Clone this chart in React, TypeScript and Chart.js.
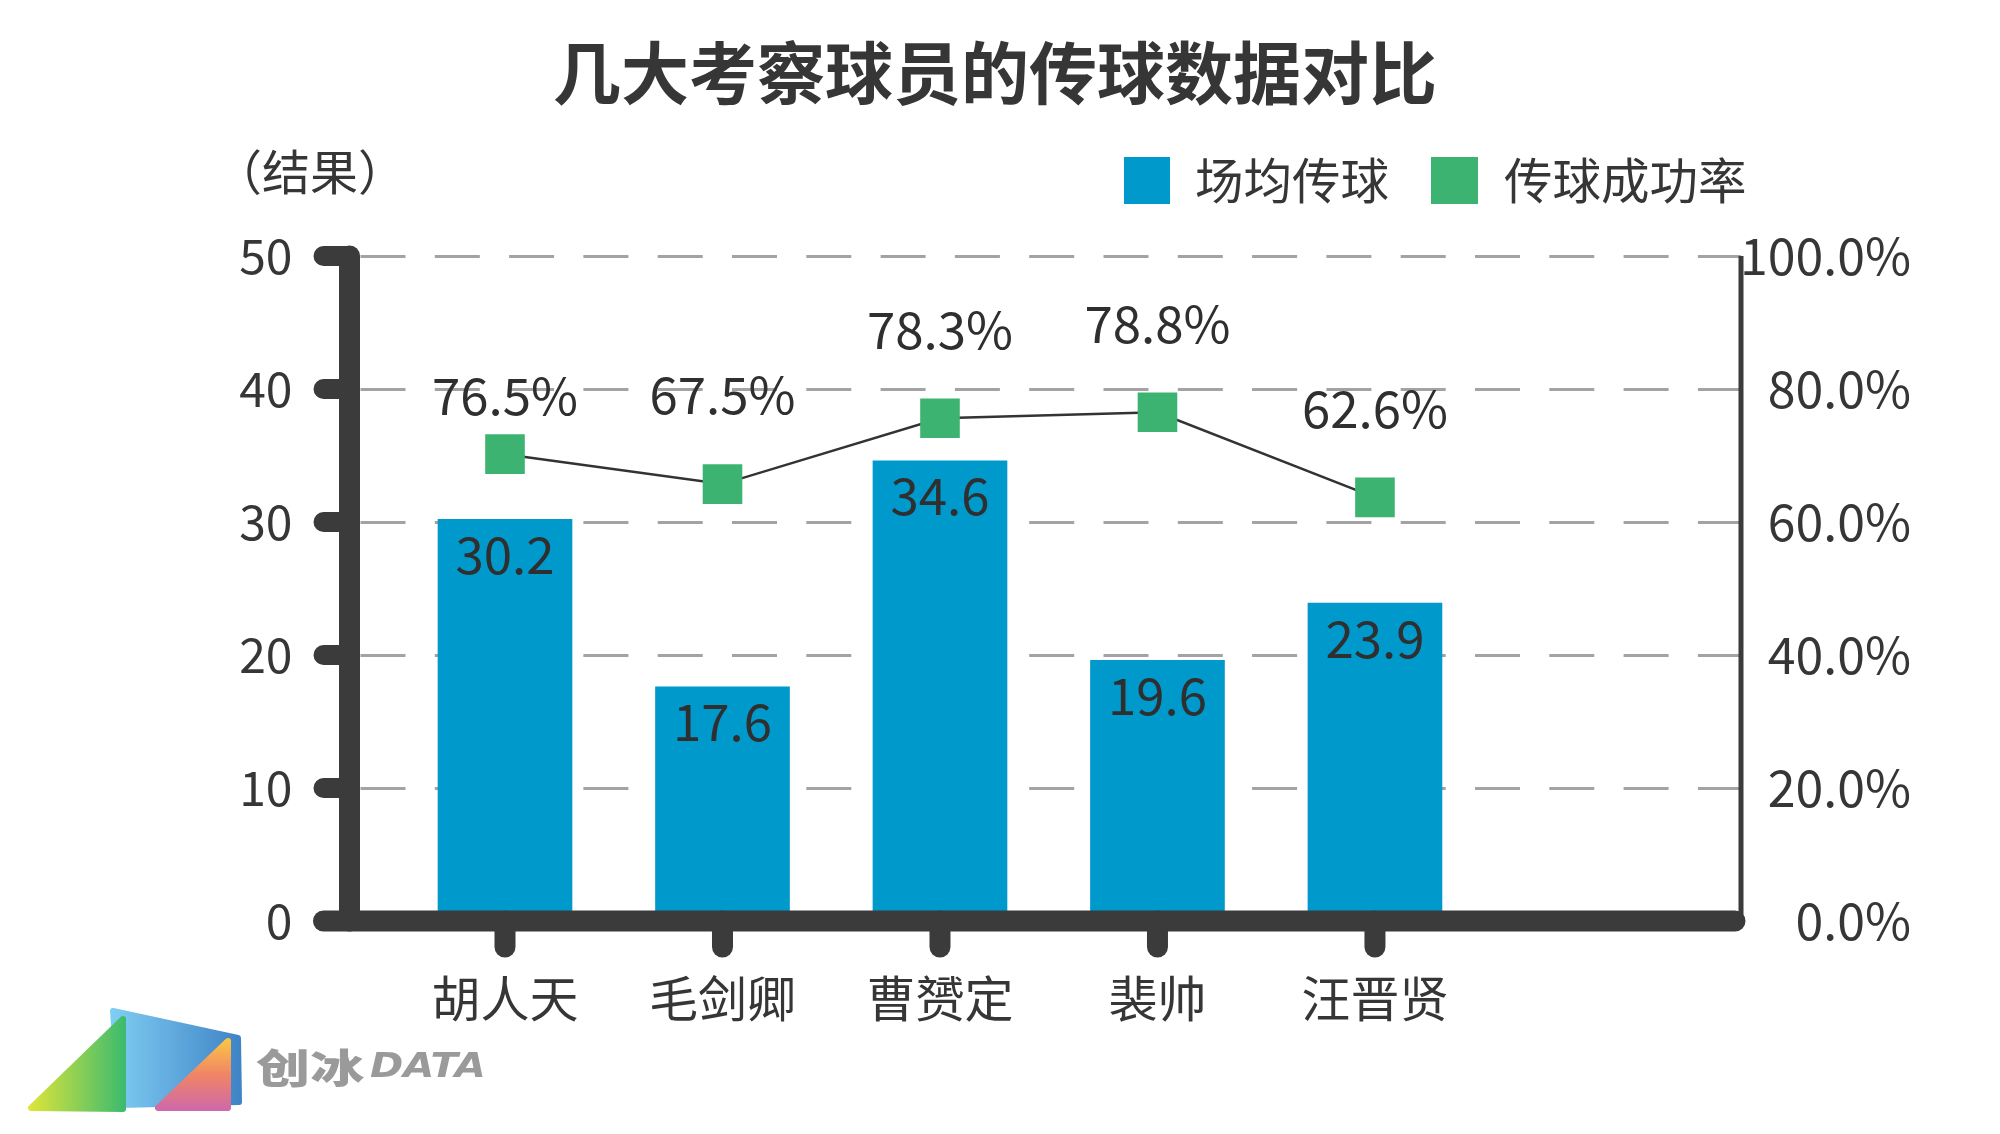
import React, { useEffect, useRef } from 'react';
import { Chart, registerables } from 'chart.js';

Chart.register(...registerables);

// ---------- data ----------
const chartTitle = '几大考察球员的传球数据对比';
const unitLabel = '（结果）';
const seriesNames = ['场均传球', '传球成功率'];
const categories = ['胡人天', '毛剑卿', '曹赟定', '裴帅', '汪晋贤'];
const avgPasses = [30.2, 17.6, 34.6, 19.6, 23.9];
const passRate = [76.5, 67.5, 78.3, 78.8, 62.6];
// heights at which the source draws the rate markers
const passRateMarker = [70.2, 65.7, 75.6, 76.5, 63.7];
const leftTickValues = [0, 10, 20, 30, 40, 50];
const rightTickValues = [0, 20, 40, 60, 80, 100];
const logoText = ['创冰', 'DATA'];

// ---------- style ----------
const FONT = "'Noto Sans CJK SC', 'Noto Sans', sans-serif";
const TEXT = '#363636';
const AXIS = '#3b3b3b';
const BLUE = '#0099cc';
const GREEN = '#3cb371';

const decoPlugin = {
  id: 'deco',
  afterDatasetsDraw(chart: any) {
    const ctx = chart.ctx as CanvasRenderingContext2D;
    const { left, right, bottom } = chart.chartArea;
    const y = chart.scales.y;
    const x = chart.scales.x;
    ctx.save();
    ctx.strokeStyle = AXIS;
    // right axis (thin)
    ctx.lineCap = 'butt';
    ctx.lineWidth = 5;
    ctx.beginPath();
    ctx.moveTo(right, y.getPixelForValue(leftTickValues[leftTickValues.length - 1]));
    ctx.lineTo(right, bottom);
    ctx.stroke();
    ctx.lineCap = 'round';
    // left axis
    ctx.lineWidth = 21;
    ctx.beginPath();
    ctx.moveTo(left, y.getPixelForValue(leftTickValues[leftTickValues.length - 1]));
    ctx.lineTo(left, bottom);
    ctx.stroke();
    // left tick marks
    ctx.lineWidth = 20;
    leftTickValues.forEach((v) => {
      const py = y.getPixelForValue(v);
      ctx.beginPath();
      ctx.moveTo(left - 26, py);
      ctx.lineTo(left, py);
      ctx.stroke();
    });
    // bottom axis
    ctx.lineWidth = 21;
    ctx.beginPath();
    ctx.moveTo(left - 26, bottom);
    ctx.lineTo(right - 6, bottom);
    ctx.stroke();
    // bottom tick marks
    categories.forEach((_, i) => {
      const px = x.getPixelForValue(i);
      ctx.beginPath();
      ctx.moveTo(px, bottom);
      ctx.lineTo(px, bottom + 26);
      ctx.stroke();
    });
    ctx.restore();
  },
  afterDraw(chart: any) {
    const ctx = chart.ctx as CanvasRenderingContext2D;
    const barMeta = chart.getDatasetMeta(0);
    const lineMeta = chart.getDatasetMeta(1);
    ctx.save();
    ctx.fillStyle = TEXT;
    ctx.textBaseline = 'middle';
    ctx.textAlign = 'center';
    // title
    ctx.font = `bold 68px ${FONT}`;
    ctx.fillText(chartTitle, 995, 73);
    // unit label
    ctx.font = `48px ${FONT}`;
    ctx.fillText(unitLabel, 310, 172);
    // legend
    ctx.textAlign = 'left';
    ctx.fillStyle = BLUE;
    ctx.fillRect(1124, 157, 46, 47);
    ctx.fillStyle = GREEN;
    ctx.fillRect(1431, 157, 47, 47);
    ctx.fillStyle = TEXT;
    ctx.font = `48.5px ${FONT}`;
    ctx.fillText(seriesNames[0], 1195, 181);
    ctx.fillText(seriesNames[1], 1504, 181);
    // bar value labels
    ctx.textAlign = 'center';
    ctx.font = `51px ${FONT}`;
    ctx.fillStyle = '#2f2f2f';
    barMeta.data.forEach((el: any, i: number) => {
      ctx.fillText(avgPasses[i].toFixed(1), el.x, el.y + 35);
    });
    // rate labels
    lineMeta.data.forEach((el: any, i: number) => {
      const off = i === 0 ? 59 : 89;
      ctx.fillText(passRate[i].toFixed(1) + '%', el.x, el.y - off);
    });
    // logo
    const poly = (pts: number[][]) => {
      ctx.beginPath();
      pts.forEach((p, k) => (k ? ctx.lineTo(p[0], p[1]) : ctx.moveTo(p[0], p[1])));
      ctx.closePath();
    };
    ctx.lineJoin = 'round';
    ctx.lineWidth = 6;
    let g = ctx.createLinearGradient(112, 0, 240, 0);
    g.addColorStop(0, '#7fcdf3');
    g.addColorStop(1, '#3f84c6');
    ctx.fillStyle = g;
    ctx.strokeStyle = g;
    poly([[113, 1011], [238, 1038], [239, 1102], [120, 1105]]);
    ctx.fill();
    ctx.stroke();
    g = ctx.createLinearGradient(30, 0, 125, 0);
    g.addColorStop(0, '#dde43a');
    g.addColorStop(1, '#3cbb6e');
    ctx.fillStyle = g;
    ctx.strokeStyle = g;
    poly([[123, 1019], [31, 1108], [123, 1109]]);
    ctx.fill();
    ctx.stroke();
    g = ctx.createLinearGradient(0, 1040, 0, 1110);
    g.addColorStop(0, '#fbc444');
    g.addColorStop(0.5, '#f08466');
    g.addColorStop(1, '#cf69a9');
    ctx.fillStyle = g;
    ctx.strokeStyle = g;
    poly([[228, 1041], [158, 1108], [228, 1108]]);
    ctx.fill();
    ctx.stroke();
    ctx.fillStyle = '#9a9a9a';
    ctx.textAlign = 'left';
    ctx.save();
    ctx.translate(256, 1068);
    ctx.scale(1.35, 1);
    ctx.font = `900 40px ${FONT}`;
    ctx.fillText(logoText[0], 0, 0);
    ctx.restore();
    ctx.save();
    ctx.translate(370, 1068);
    ctx.scale(1.18, 1);
    ctx.font = `italic bold 34px 'DejaVu Sans', sans-serif`;
    ctx.fillText(logoText[1], 0, 0);
    ctx.restore();
    ctx.restore();
  },
};

export default function App() {
  const canvasRef = useRef<HTMLCanvasElement | null>(null);

  useEffect(() => {
    const canvas = canvasRef.current;
    if (!canvas) return;
    const chart = new Chart(canvas, {
      type: 'bar',
      data: {
        datasets: [
          {
            type: 'bar',
            label: seriesNames[0],
            data: avgPasses.map((v, i) => ({ x: i, y: v })),
            backgroundColor: BLUE,
            barThickness: 134,
            yAxisID: 'y',
            order: 2,
          },
          {
            type: 'line',
            label: seriesNames[1],
            data: passRateMarker.map((v, i) => ({ x: i, y: v })),
            borderColor: '#333333',
            borderWidth: 2.5,
            pointStyle: 'rect',
            pointRadius: 28,
            pointBackgroundColor: GREEN,
            pointBorderWidth: 0,
            pointHoverRadius: 28,
            yAxisID: 'y1',
            order: 1,
          } as any,
        ],
      },
      options: {
        responsive: false,
        animation: false,
        devicePixelRatio: 1,
        layout: { padding: { left: 0, right: 89, top: 256, bottom: 0 } },
        plugins: {
          legend: { display: false },
          title: { display: false },
          tooltip: { enabled: false },
        },
        scales: {
          x: {
            type: 'linear',
            offset: false,
            min: -0.715,
            max: 5.683,
            afterBuildTicks: (s: any) => {
              s.ticks = categories.map((_, i) => ({ value: i }));
            },
            afterFit: (s: any) => {
              s.height = 213;
            },
            ticks: {
              autoSkip: false,
              maxRotation: 0,
              padding: 40,
              color: TEXT,
              font: { size: 49, family: FONT },
              callback: (v: any) => categories[v] ?? '',
            },
            grid: { display: false },
            border: { display: false },
          },
          y: {
            position: 'left',
            min: 0,
            max: 50,
            afterBuildTicks: (s: any) => {
              s.ticks = leftTickValues.map((v) => ({ value: v }));
            },
            afterFit: (s: any) => {
              s.width = 349.5;
            },
            ticks: {
              padding: 57,
              color: TEXT,
              font: { size: 48, family: FONT },
            },
            grid: { color: '#a3a3a3', lineWidth: 3, drawTicks: false },
            border: { display: false, dash: [45, 29.3], dashOffset: -10.5 },
          },
          y1: {
            position: 'right',
            min: 0,
            max: 100,
            afterBuildTicks: (s: any) => {
              s.ticks = rightTickValues.map((v) => ({ value: v }));
            },
            afterFit: (s: any) => {
              s.width = 170;
            },
            ticks: {
              padding: 4,
              crossAlign: 'far',
              color: TEXT,
              font: { size: 50, family: FONT },
              callback: (v: any) => Number(v).toFixed(1) + '%',
            },
            grid: { display: false, drawTicks: false },
            border: { display: false },
          },
        },
      } as any,
      plugins: [decoPlugin],
    });
    return () => chart.destroy();
  }, []);

  return (
    <div style={{ position: 'fixed', left: 0, top: 0, width: 2000, height: 1134, background: '#fff' }}>
      <canvas ref={canvasRef} width={2000} height={1134} style={{ width: 2000, height: 1134, display: 'block' }} />
    </div>
  );
}
